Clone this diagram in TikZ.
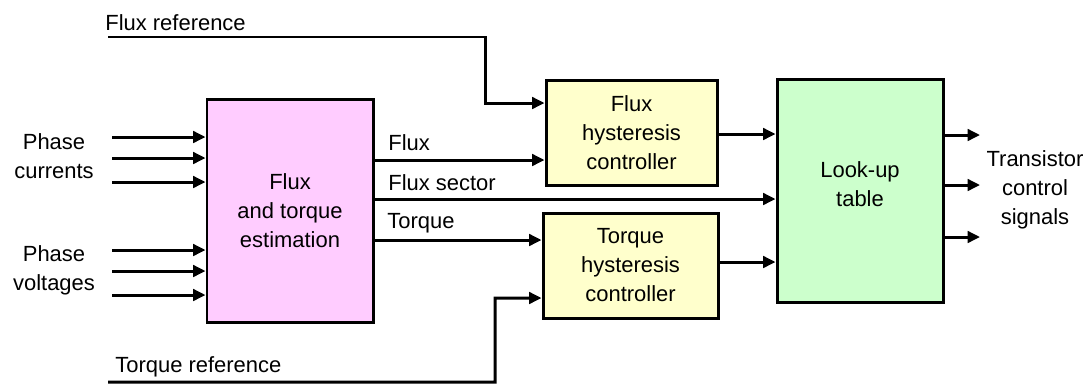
\documentclass[tikz,border=0pt]{standalone}
\usepackage{fontspec}
\setmainfont{Liberation Sans}
\usepackage{xcolor}
\usepackage{tikz}
\usetikzlibrary{arrows.meta,positioning,calc}

\definecolor{estpink}{RGB}{255,204,255}
\definecolor{hystyellow}{RGB}{255,255,204}
\definecolor{lutgreen}{RGB}{204,255,204}

\begin{document}
\begin{tikzpicture}[
  x=0.02cm, y=-0.02cm,
  font=\fontsize{12.5}{16.5}\selectfont,
  blk/.style={rectangle, draw=black, line width=1.7pt, align=center,
              inner sep=0pt},
  sig/.style={line width=1.7pt, -{Triangle[length=7pt,width=6.5pt]}},
  lbl/.style={inner sep=0pt, anchor=west}
]
  \useasboundingbox (0,0) rectangle (1084,383);

  % blocks
  \node[blk, fill=estpink, minimum width=166*0.02cm, minimum height=223*0.02cm]
    (est) at (290,210.5) {Flux\\and torque\\estimation};
  \node[blk, fill=hystyellow, minimum width=171*0.02cm, minimum height=105*0.02cm]
    (fhc) at (631.5,132.5) {Flux\\hysteresis\\controller};
  \node[blk, fill=hystyellow, minimum width=175*0.02cm, minimum height=105*0.02cm]
    (thc) at (630.5,265.5) {Torque\\hysteresis\\controller};
  \node[blk, fill=lutgreen, minimum width=166*0.02cm, minimum height=223*0.02cm,
        text depth=0.25cm]
    (lut) at (860,190.5) {Look-up\\table};

  % inputs
  \node[align=center, inner sep=0pt] (cur) at (54,156) {Phase\\currents};
  \node[align=center, inner sep=0pt] (vol) at (54,270) {Phase\\voltages};
  \foreach \y in {137,158,182,250,271,295} {
    \coordinate (in\y) at (112,\y);
    \draw[sig] (in\y) -- (est.west |- in\y);
  }

  % references
  \node[lbl] (frefl) at (105,23) {Flux reference};
  \node[lbl] (trefl) at (115,367) {Torque reference};
  \coordinate (fref) at (108,37);
  \coordinate (tref) at (108,382);
  \draw[sig] (fref) -| (485,103) -- ($(fhc.west)+(0,-29.5)$);
  \draw[sig] (tref) -| (495,298) -- ($(thc.west)+(0,32.5)$);

  % estimator outputs
  \coordinate (yflux) at (0,160);
  \coordinate (ysect) at (0,199);
  \coordinate (ytorq) at (0,240);
  \draw[sig] (est.east |- yflux) -- (fhc.west |- yflux);
  \draw[sig] (est.east |- ysect) -- (lut.west |- ysect);
  \draw[sig] (est.east |- ytorq) -- (thc.west |- ytorq);
  \node[lbl] (fluxl) at (388,143) {Flux};
  \node[lbl] (sectl) at (388,183) {Flux sector};
  \node[lbl] (torql) at (387,223) {Torque};

  % controllers to table
  \draw[sig] (fhc.east |- 0,134) -- (lut.west |- 0,134);
  \draw[sig] (thc.east |- 0,262) -- (lut.west |- 0,262);

  % outputs
  \foreach \y in {135,185,237} {
    \coordinate (out\y) at (980,\y);
    \draw[sig] (lut.east |- out\y) -- (out\y);
  }
  \node[align=center, inner sep=0pt] (tcs) at (1035,190) {Transistor\\control\\signals};
\end{tikzpicture}
\end{document}
